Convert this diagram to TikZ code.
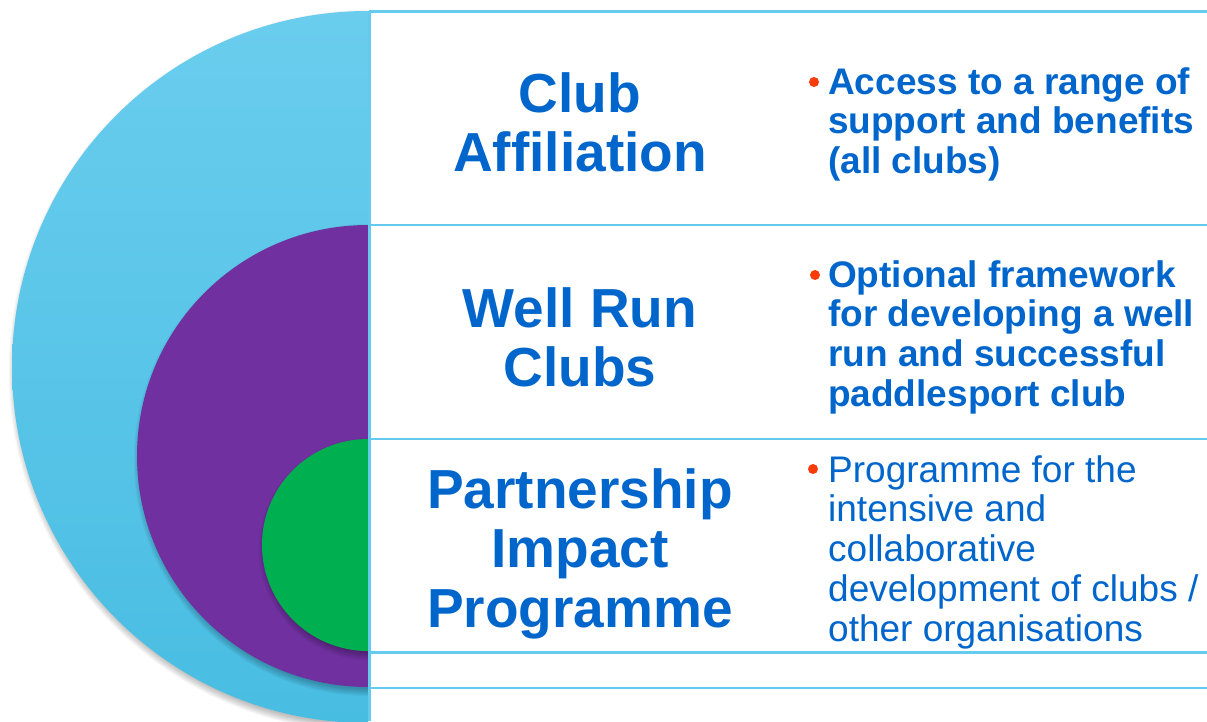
\documentclass[tikz,border=0pt]{standalone}
\usepackage{fontspec}
\setmainfont{Liberation Sans}
\definecolor{skytop}{RGB}{106,205,238}
\definecolor{skybot}{RGB}{72,189,226}
\definecolor{clubpurple}{RGB}{112,48,160}
\definecolor{clubgreen}{RGB}{0,176,80}
\definecolor{rulecol}{RGB}{100,202,238}
\definecolor{textblue}{RGB}{0,102,204}
\definecolor{bulletred}{RGB}{250,60,10}
% soft drop shadow under a disc, drawn as stacked translucent circles
\newcommand\discshadow[3]{%
  \foreach \k in {0,...,6}{%
    \fill[black,opacity=0.04,shift={(2,4)}] (#1,#2) circle ({#3-2+\k*1.2});}}
\newcommand\titlebox[1]{\parbox[t]{420pt}{\centering\fontsize{55}{59.5}\selectfont\bfseries #1\par}}
\newcommand\pointbox[2]{\parbox[t]{385pt}{\raggedright\fontsize{37}{39.9}\selectfont #1 #2\par}}
\begin{document}
\begin{tikzpicture}[x=1pt,y=-1pt,
  title/.style={anchor=base,inner sep=0pt,text=textblue},
  point/.style={anchor=base west,inner sep=0pt,text=textblue},
  rule/.style={draw=rulecol,line width=2.5pt},
  dot/.style={fill=bulletred}]
\useasboundingbox (0,0) rectangle (1207,721);
\fill[white] (0,0) rectangle (1207,721);

% nested half discs on the left
\begin{scope}
  \clip (0,0) rectangle (368,721);
  \discshadow{368}{367}{356}
  \shade[top color=skytop,bottom color=skybot] (368,367) circle (356);
  \discshadow{368}{456}{231}
  \fill[clubpurple] (368,456) circle (231);
  \discshadow{368}{545}{106}
  \fill[clubgreen] (368,545) circle (106);
\end{scope}

% table rules
\coordinate (vt) at (369.5,10.5);
\coordinate (vb) at (369.5,721);
\draw[rule] (vt) -- (vb);
\foreach \yy/\nm in {11.5/r0,225/r1,439/r2,652.5/r3,688/r4}{
  \coordinate (\nm l) at (368.5,\yy);
  \coordinate (\nm r) at (1207,\yy);
  \draw[rule] (\nm l) -- (\nm r);
}

% level titles
\node[title] (t1) at (580,112) {\titlebox{Club\\Affiliation}};
\node[title] (t2) at (580,327) {\titlebox{Well Run\\Clubs}};
\node[title] (t3) at (580,508) {\titlebox{Partnership\\Impact\\Programme}};

% descriptions
\fill[dot] (814,82) circle (5);
\node[point] (p1) at (828,94) {\pointbox{\bfseries}{Access to a range of\\support and benefits\\(all clubs)}};
\fill[dot] (815,275) circle (5);
\node[point] (p2) at (828,287) {\pointbox{\bfseries}{Optional framework\\for developing a well\\run and successful\\paddlesport club}};
\fill[dot] (813,469) circle (5);
\node[point] (p3) at (828,482) {\pointbox{}{Programme for the\\intensive and\\collaborative\\development of clubs /\\other organisations}};
\end{tikzpicture}
\end{document}
